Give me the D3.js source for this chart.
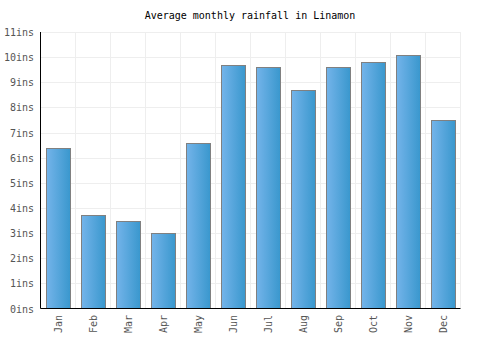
<!DOCTYPE html>
<html>
<head>
<meta charset="utf-8">
<script src="https://cdn.jsdelivr.net/npm/d3@7"></script>
<style>
    body { margin: 0; background: #fff; }
    text { font-family: "DejaVu Sans Mono", monospace; }
</style>
</head>
<body>
<svg id="chart" width="500" height="350"></svg>
<script>
var months = ['Jan', 'Feb', 'Mar', 'Apr', 'May', 'Jun', 'Jul', 'Aug', 'Sep', 'Oct', 'Nov', 'Dec'];
var rainfall = [6.4, 3.7, 3.5, 3.0, 6.6, 9.7, 9.6, 8.7, 9.6, 9.8, 10.1, 7.5];
var yTicks = [0, 1, 2, 3, 4, 5, 6, 7, 8, 9, 10, 11];

var svg = d3.select('#chart')
var plotLeft = 40.5, plotRight = 460.5, plotTop = 32, plotBottom = 308.5;

var x = d3.scaleBand()
    .domain(months)
    .range([plotLeft, plotRight])
    .paddingInner(0.32)
    .paddingOuter(0.16)
var band = d3.scaleBand().domain(months).range([plotLeft, plotRight])
var y = d3.scaleLinear()
    .domain([0, 11])
    .range([plotBottom, plotTop])

var defs = svg.append('defs')
var grad = defs.append('linearGradient')
    .attr('id', 'barGrad')
    .attr('x1', '0%').attr('x2', '100%')
    .attr('y1', '0%').attr('y2', '0%')
grad.append('stop').attr('offset', '0%').attr('stop-color', '#74b4ea')
grad.append('stop').attr('offset', '100%').attr('stop-color', '#3997cd')

svg.append('text')
    .attr('x', 250)
    .attr('y', 19)
    .attr('text-anchor', 'middle')
    .style('font-size', '10px')
    .attr('fill', '#000')
    .text('Average monthly rainfall in Linamon')

// grid
var grid = svg.append('g')
grid.selectAll('.hgrid')
    .data(yTicks.slice(1))
    .enter().append('line')
    .attr('x1', plotLeft).attr('x2', plotRight)
    .attr('y1', d => Math.round(y(d)) + 0.5)
    .attr('y2', d => Math.round(y(d)) + 0.5)
    .attr('stroke', '#eeeeee')
grid.selectAll('.vgrid')
    .data(months)
    .enter().append('line')
    .attr('x1', d => band(d) + band.bandwidth())
    .attr('x2', d => band(d) + band.bandwidth())
    .attr('y1', plotTop).attr('y2', plotBottom)
    .attr('stroke', '#eeeeee')

// bars
svg.selectAll('.bar')
    .data(rainfall)
    .enter().append('rect')
    .attr('class', 'bar')
    .attr('x', (d, i) => Math.round(x(months[i])) + 0.5)
    .attr('y', d => Math.round(y(d)) + 0.5)
    .attr('width', Math.round(x.bandwidth()))
    .attr('height', d => plotBottom - Math.round(y(d)) - 0.5)
    .attr('fill', 'url(#barGrad)')
    .attr('stroke', '#808080')
    .attr('stroke-width', 1)

// axes
svg.append('line')
    .attr('x1', plotLeft).attr('x2', plotLeft)
    .attr('y1', plotTop).attr('y2', plotBottom)
    .attr('stroke', '#000')
svg.append('line')
    .attr('x1', plotLeft).attr('x2', plotRight)
    .attr('y1', plotBottom).attr('y2', plotBottom)
    .attr('stroke', '#000')

svg.selectAll('.ylab')
    .data(yTicks)
    .enter().append('text')
    .attr('x', 34)
    .attr('y', d => y(d) + 4)
    .attr('text-anchor', 'end')
    .style('font-size', '10px')
    .attr('fill', '#555')
    .text(d => d + 'ins')

svg.selectAll('.xlab')
    .data(months)
    .enter().append('text')
    .attr('transform', d => 'translate(' + (band(d) + band.bandwidth() / 2 + 4) + ',315) rotate(-90)')
    .attr('text-anchor', 'end')
    .style('font-size', '10px')
    .attr('fill', '#555')
    .text(d => d)
</script>
</body>
</html>
